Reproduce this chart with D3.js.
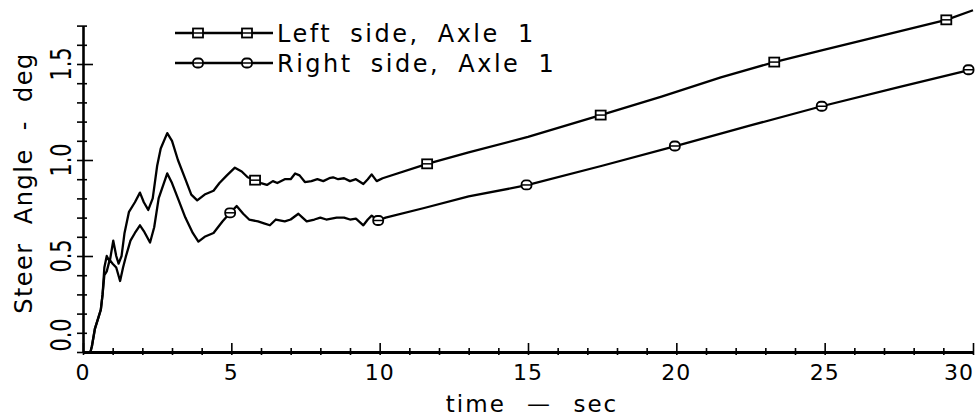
<!DOCTYPE html>
<html>
<head>
  <meta charset="utf-8">
  <script src="https://d3js.org/d3.v7.min.js"></script>
  <style>
    body { margin: 0; background: #fff; }
    text { font-family: "DejaVu Sans", sans-serif; fill: #000; }
  </style>
</head>
<body>
  <div id="chart"></div>
  <script>
    // values (time in sec, steer angle in deg)
    var leftT = [0.25, 0.3, 0.4, 0.5, 0.6, 0.66, 0.72, 0.8, 0.9, 1.02, 1.12, 1.2, 1.3, 1.4, 1.55, 1.75, 1.92, 2.05, 2.2, 2.35,
      2.5, 2.62, 2.84, 3.0, 3.2, 3.45, 3.65, 3.85, 4.1, 4.4, 4.6, 4.85, 5.12, 5.35, 5.55, 5.8, 6.0, 6.2, 6.4, 6.55,
      6.8, 7.0, 7.15, 7.3, 7.48, 7.7, 7.9, 8.1, 8.3, 8.43, 8.6, 8.8, 9.0, 9.2, 9.45, 9.6, 9.73, 9.9, 10.1, 11.6,
      13.0, 15.0, 17.45, 19.5, 21.5, 23.3, 25.0, 27.0, 29.1, 30.0];
    var leftV = [0.0, 0.03, 0.12, 0.17, 0.22, 0.3, 0.44, 0.5, 0.47, 0.58, 0.5, 0.46, 0.5, 0.62, 0.73, 0.78, 0.83, 0.78, 0.74, 0.8,
      0.97, 1.06, 1.14, 1.1, 1.0, 0.9, 0.82, 0.79, 0.82, 0.84, 0.88, 0.92, 0.96, 0.94, 0.91, 0.895, 0.88, 0.87, 0.89, 0.88,
      0.9, 0.9, 0.93, 0.92, 0.885, 0.89, 0.9, 0.89, 0.905, 0.91, 0.9, 0.905, 0.89, 0.9, 0.875, 0.9, 0.925, 0.89, 0.905, 0.98,
      1.04, 1.12, 1.234, 1.33, 1.43, 1.51, 1.575, 1.65, 1.73, 1.78];

    var rightT = [0.25, 0.3, 0.4, 0.5, 0.6, 0.66, 0.72, 0.8, 0.9, 1.0, 1.12, 1.25, 1.35, 1.45, 1.6, 1.75, 1.92, 2.05, 2.26, 2.4,
      2.55, 2.84, 3.0, 3.2, 3.45, 3.7, 3.89, 4.1, 4.4, 4.7, 4.96, 5.18, 5.4, 5.6, 5.9, 6.1, 6.3, 6.5, 6.8, 7.0,
      7.26, 7.4, 7.54, 7.8, 8.0, 8.2, 8.55, 8.8, 9.0, 9.2, 9.45, 9.6, 9.73, 9.95, 10.2, 11.5, 13.0, 15.0, 17.5, 20.0,
      22.5, 24.9, 27.5, 29.9, 30.0];
    var rightV = [0.0, 0.03, 0.12, 0.17, 0.22, 0.3, 0.4, 0.42, 0.48, 0.46, 0.44, 0.37, 0.44, 0.5, 0.58, 0.62, 0.66, 0.63, 0.57, 0.65,
      0.8, 0.93, 0.88, 0.8, 0.7, 0.62, 0.575, 0.6, 0.62, 0.68, 0.725, 0.76, 0.72, 0.69, 0.68, 0.67, 0.66, 0.69, 0.68, 0.69,
      0.72, 0.7, 0.68, 0.69, 0.7, 0.69, 0.7, 0.7, 0.69, 0.695, 0.66, 0.69, 0.71, 0.685, 0.7, 0.75, 0.81, 0.87, 0.97, 1.073,
      1.18, 1.28, 1.38, 1.47, 1.48];

    // symbol positions along each curve
    var leftMarkT = [5.8, 11.6, 17.45, 23.3, 29.1];
    var leftMarkV = [0.895, 0.98, 1.234, 1.51, 1.73];
    var rightMarkT = [4.96, 9.95, 14.95, 19.95, 24.9, 29.85];
    var rightMarkV = [0.725, 0.685, 0.87, 1.073, 1.28, 1.47];

    var xTickLabels = [0, 5, 10, 15, 20, 25, 30];
    var yTickLabels = ["0.0", "0.5", "1.0", "1.5"];
    var seriesNames = ["Left side, Axle 1", "Right side, Axle 1"];

    var width = 975, height = 420;

    var x = d3.scaleLinear().domain([0, 30]).range([83, 973]);
    var y = d3.scaleLinear().domain([0, 1.7]).range([352, 352 - 1.7 * 192]);

    var svg = d3.select('#chart').append('svg')
      .attr('width', width)
      .attr('height', height);

    // x axis: minor ticks every second, major every 5
    var xAxis = d3.axisBottom(x).tickValues(d3.range(0, 31, 1)).tickSize(0).tickFormat('');
    var gx = svg.append('g').attr('transform', 'translate(0,' + y(0) + ')').call(xAxis);
    gx.select('.domain').attr('stroke-width', 3.2);
    gx.selectAll('.tick line')
      .attr('y1', function(d) { return d % 5 === 0 ? -9 : -4; })
      .attr('y2', 3)
      .attr('stroke-width', 1.6);
    gx.selectAll('.tick text').remove();

    svg.append('g').selectAll('text')
      .data(xTickLabels)
      .enter().append('text')
        .attr('x', function(d) { return d === 30 ? 974 : x(d); })
        .attr('y', 380)
        .attr('text-anchor', function(d) { return d === 30 ? 'end' : 'middle'; })
        .style('font-size', '22px')
        .style('letter-spacing', '1px')
        .text(function(d) { return d; });

    // y axis: minor ticks every 0.1
    var yAxis = d3.axisLeft(y).tickValues(d3.range(0, 18).map(function(i) { return i / 10; })).tickSize(0).tickFormat('');
    var gy = svg.append('g').attr('transform', 'translate(' + x(0) + ',0)').call(yAxis);
    gy.select('.domain').attr('stroke-width', 2.6);
    gy.selectAll('.tick line')
      .attr('x1', -6)
      .attr('x2', function(d) { return Math.round(d * 10) % 5 === 0 ? 10 : 4; })
      .attr('stroke-width', 1.6);

    svg.append('g').selectAll('text')
      .data(yTickLabels)
      .enter().append('text')
        .attr('transform', function(d) {
          var yy = y(+d) - (+d === 0 ? 17 : 0);
          return 'translate(71,' + yy + ') rotate(-90) scale(0.72,1)';
        })
        .attr('text-anchor', 'middle')
        .style('font-size', '29px')
        .text(function(d) { return d; });

    // axis titles
    svg.append('text')
      .attr('x', 532)
      .attr('y', 412)
      .attr('text-anchor', 'middle')
      .style('font-size', '23px')
      .style('letter-spacing', '2px')
      .style('word-spacing', '12px')
      .text('time \u2014 sec');

    svg.append('text')
      .attr('transform', 'translate(32,183) rotate(-90)')
      .attr('text-anchor', 'middle')
      .style('font-size', '24px')
      .style('letter-spacing', '1.5px')
      .style('word-spacing', '9px')
      .text('Steer Angle - deg');

    // curves
    var line = d3.line()
      .x(function(d) { return x(d[0]); })
      .y(function(d) { return y(d[1]); });

    var leftData = d3.zip(leftT, leftV);
    var rightData = d3.zip(rightT, rightV);

    svg.append('path').datum(leftData)
      .attr('d', line)
      .attr('fill', 'none').attr('stroke', '#000').attr('stroke-width', 2.3)
      .attr('stroke-linejoin', 'round');
    svg.append('path').datum(rightData)
      .attr('d', line)
      .attr('fill', 'none').attr('stroke', '#000').attr('stroke-width', 2.3)
      .attr('stroke-linejoin', 'round');

    function squareMark(g, cx, cy) {
      g.append('rect')
        .attr('x', cx - 5).attr('y', cy - 4.5)
        .attr('width', 10).attr('height', 9)
        .attr('fill', '#fff').attr('stroke', '#000').attr('stroke-width', 1.8);
      g.append('line')
        .attr('x1', cx - 5).attr('x2', cx + 5).attr('y1', cy).attr('y2', cy)
        .attr('stroke', '#000').attr('stroke-width', 1.5);
    }
    function roundMark(g, cx, cy) {
      g.append('rect')
        .attr('x', cx - 5).attr('y', cy - 4.5)
        .attr('width', 10).attr('height', 9).attr('rx', 4)
        .attr('fill', '#fff').attr('stroke', '#000').attr('stroke-width', 1.8);
      g.append('line')
        .attr('x1', cx - 5).attr('x2', cx + 5).attr('y1', cy).attr('y2', cy)
        .attr('stroke', '#000').attr('stroke-width', 1.5);
    }

    var marks = svg.append('g');
    d3.zip(leftMarkT, leftMarkV).forEach(function(d) { squareMark(marks, x(d[0]), y(d[1])); });
    d3.zip(rightMarkT, rightMarkV).forEach(function(d) { roundMark(marks, x(d[0]), y(d[1])); });

    // legend
    var legend = svg.append('g');
    var legendY = [33, 63];
    seriesNames.forEach(function(name, i) {
      var ly = legendY[i];
      legend.append('line')
        .attr('x1', 175).attr('x2', 273).attr('y1', ly).attr('y2', ly)
        .attr('stroke', '#000').attr('stroke-width', 2.3);
      var mk = i === 0 ? squareMark : roundMark;
      mk(legend, 198, ly);
      mk(legend, 247, ly);
      legend.append('text')
        .attr('x', 277)
        .attr('y', ly)
        .attr('dy', '0.36em')
        .style('font-size', '24px')
        .style('letter-spacing', '2.5px')
        .style('word-spacing', '8px')
        .text(name);
    });
  </script>
</body>
</html>
